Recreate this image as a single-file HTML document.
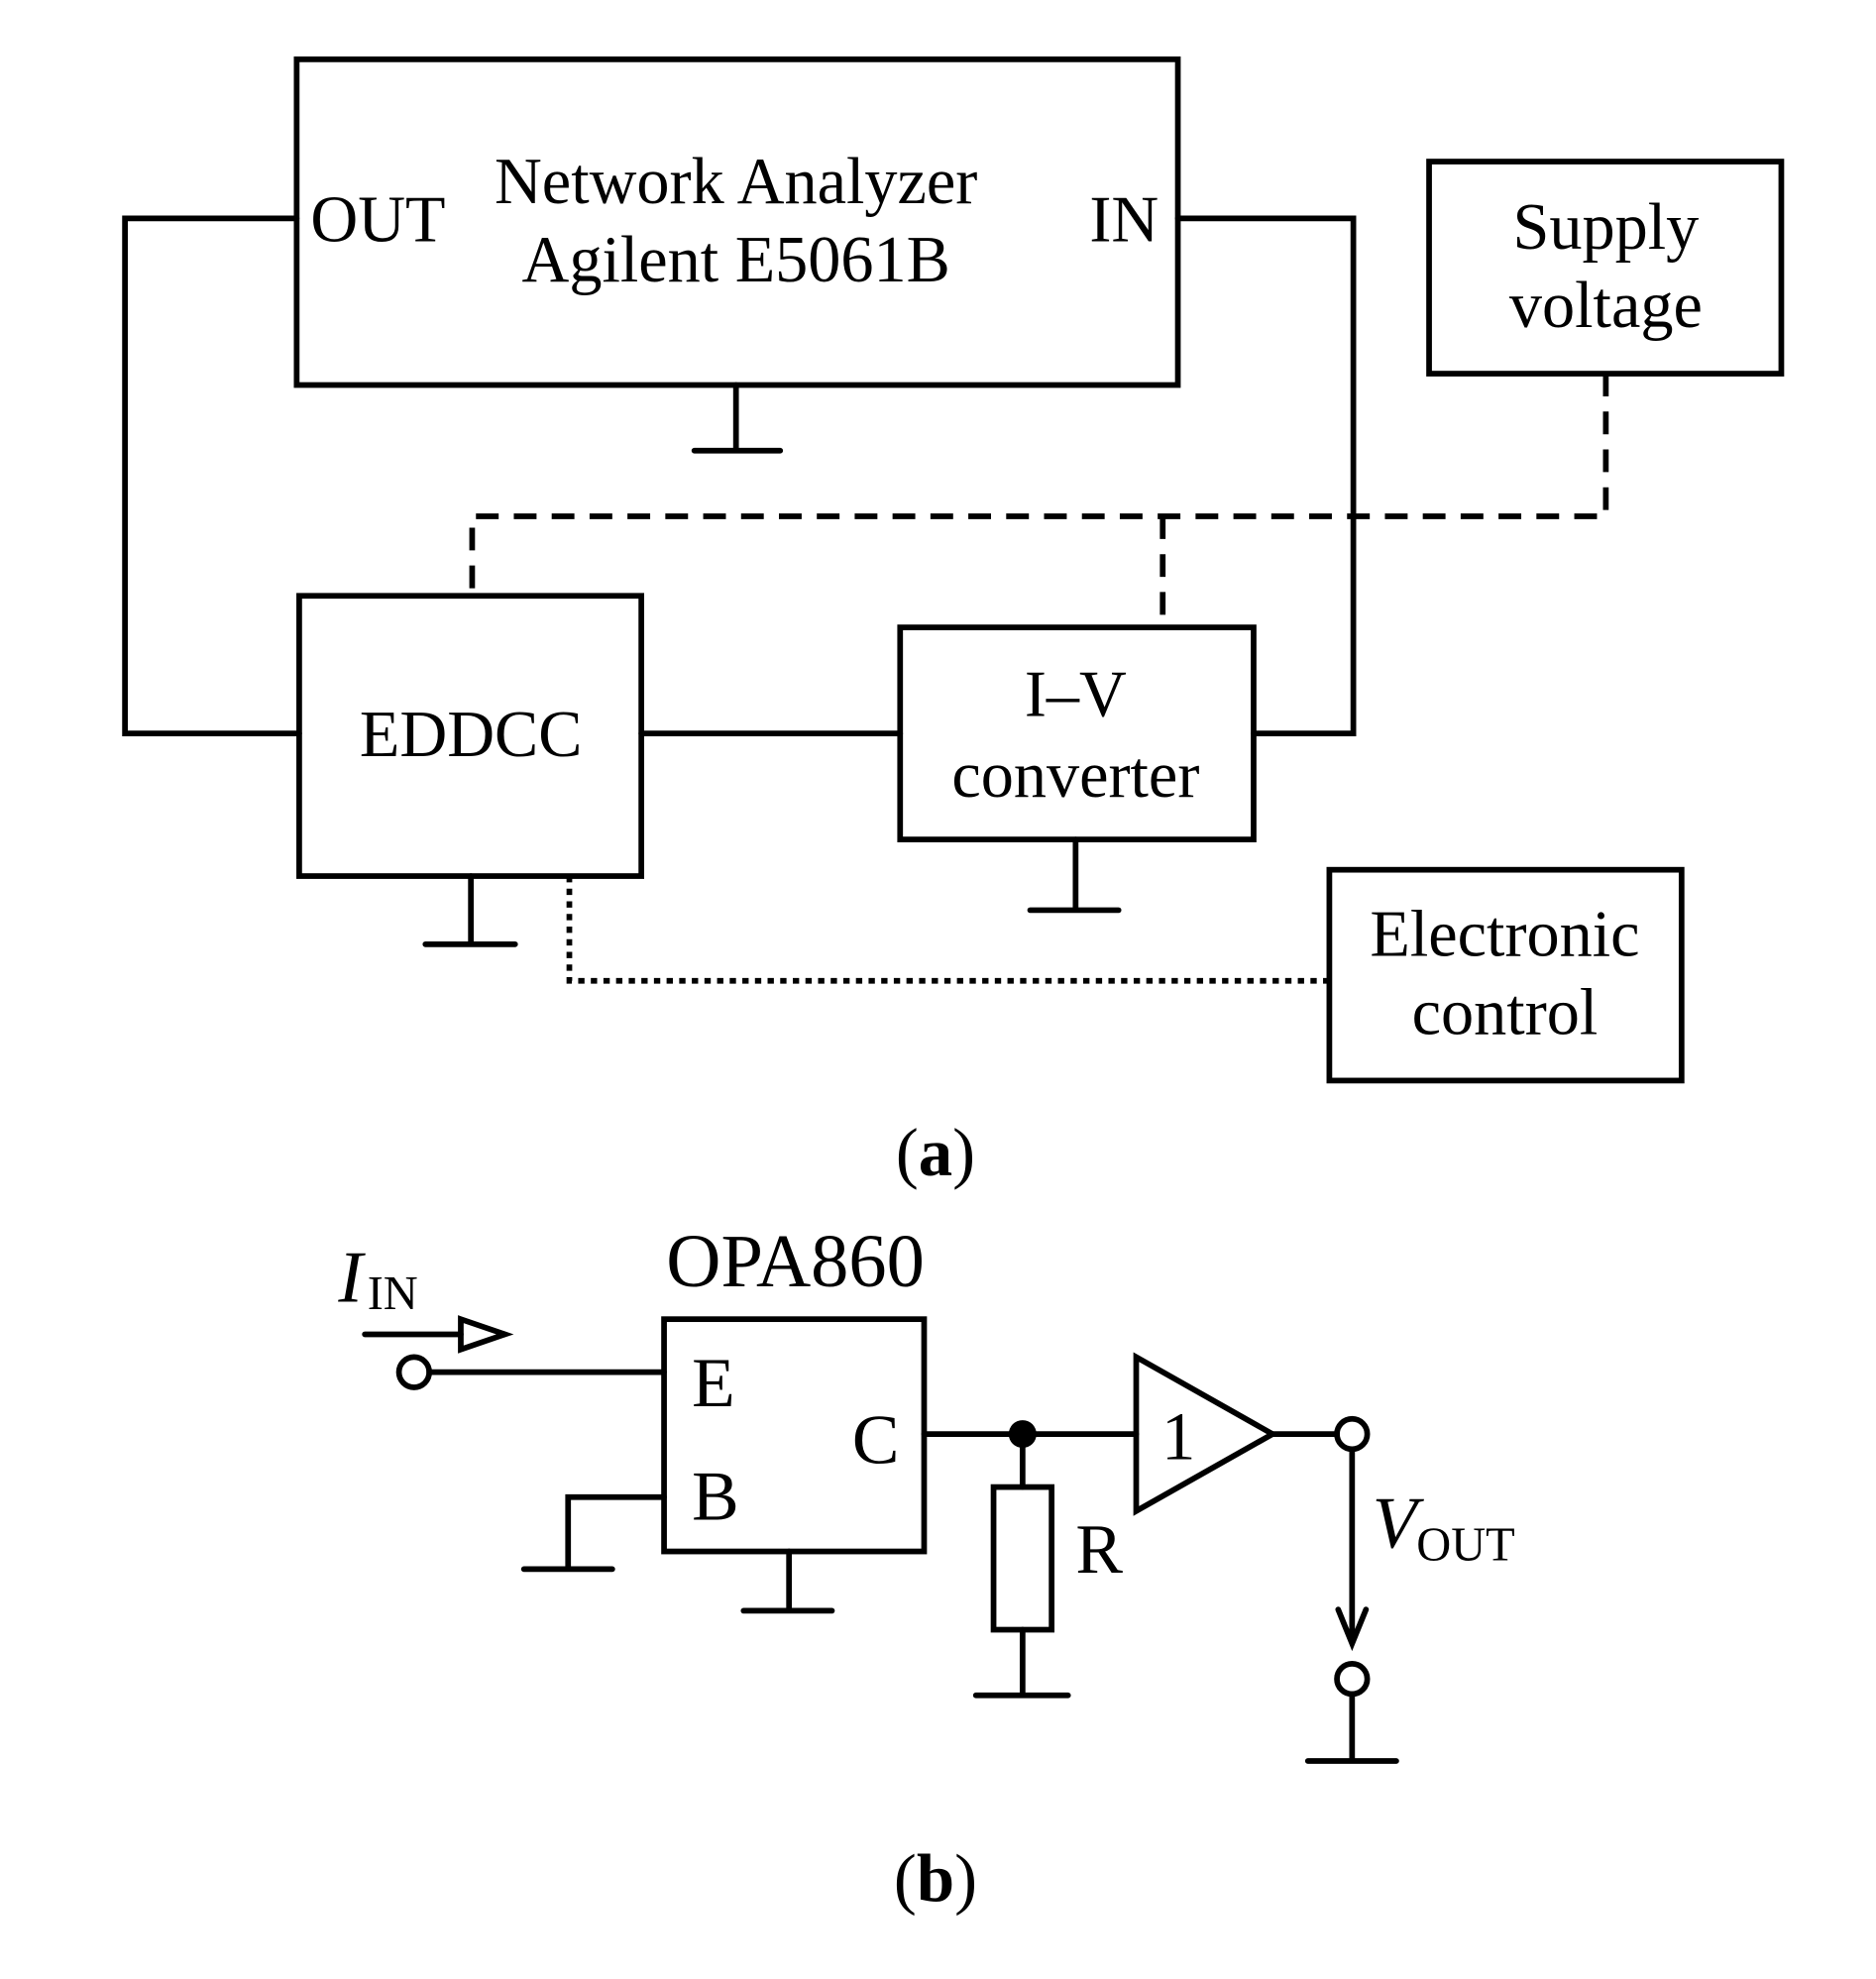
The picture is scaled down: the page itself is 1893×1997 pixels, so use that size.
<!DOCTYPE html>
<html><head><style>html,body{margin:0;padding:0;background:#fff}svg{display:block}</style></head>
<body>
<svg width="1893" height="1997" viewBox="0 0 1486 1567.7" preserveAspectRatio="none" xmlns="http://www.w3.org/2000/svg" font-family="Liberation Serif, serif" fill="#000">
<g stroke="#000" stroke-width="4.5" fill="none" stroke-linecap="round">
<rect x="235" y="47" width="698" height="258"/>
<path d="M583 305V357M550 357H618"/>
<path d="M235 173H99V581H237"/>
<path d="M933 173H1072V581H993"/>
<rect x="1132" y="128" width="279" height="168"/>
<path d="M1272 296V409H374V472M921 409V497" stroke-dasharray="18 12" stroke-linecap="butt"/>
<rect x="237" y="472" width="271" height="222"/>
<path d="M508 581H713"/>
<rect x="713" y="497" width="280" height="168"/>
<path d="M852 665V721M816 721H886"/>
<path d="M373 694V748M337 748H408"/>
<path d="M451 694V777H1053" stroke-dasharray="5 5" stroke-linecap="butt"/>
<rect x="1053" y="689" width="279" height="167"/>
<rect x="526" y="1045" width="206" height="184"/>
<circle cx="328" cy="1087" r="12"/>
<path d="M340 1087H526"/>
<path d="M289 1057H365"/>
<path d="M365 1045L400 1057L365 1069Z"/>
<path d="M526 1186H450V1243M415 1243H485"/>
<path d="M625 1229V1276M589 1276H659"/>
<path d="M732 1136H900"/>
<path d="M810 1136V1178M810 1291V1343M773 1343H846"/>
<rect x="787" y="1178" width="46" height="113"/>
<path d="M900 1075V1197L1008 1136Z"/>
<path d="M1008 1136H1059"/>
<circle cx="1071" cy="1136" r="12"/>
<path d="M1071 1150V1300M1060 1275L1071 1302L1082 1275"/>
<circle cx="1071" cy="1330" r="12"/>
<path d="M1071 1342V1395M1036 1395H1106"/>
</g>
<circle cx="810" cy="1136" r="11"/>
<g font-size="52" text-anchor="middle">
<text x="583" y="161">Network Analyzer</text>
<text x="583" y="223">Agilent E5061B</text>
<text x="1272" y="197">Supply</text>
<text x="1272" y="259">voltage</text>
<text x="373" y="599">EDDCC</text>
<text x="852" y="567">I–V</text>
<text x="852" y="631">converter</text>
<text x="1192" y="757">Electronic</text>
<text x="1192" y="819">control</text>
<text x="741" y="931" font-size="54">(<tspan font-weight="bold">a</tspan>)</text>
<text x="741" y="1506" font-size="54">(<tspan font-weight="bold">b</tspan>)</text>
<text x="630" y="1019" font-size="60">OPA860</text>
</g>
<g font-size="52">
<text x="246" y="191">OUT</text>
<text x="863" y="191">IN</text>
<text x="548" y="1114" font-size="56">E</text>
<text x="548" y="1204" font-size="56">B</text>
<text x="675" y="1159" font-size="56">C</text>
<text x="852" y="1246" font-size="56">R</text>
<text x="920" y="1156" font-size="54">1</text>
<text x="268" y="1031" font-style="italic" font-size="58">I</text>
<text x="291" y="1037" font-size="38">IN</text>
<text x="1087" y="1226" font-style="italic" font-size="58">V</text>
<text x="1122" y="1236" font-size="38">OUT</text>
</g>
</svg>
</body></html>
